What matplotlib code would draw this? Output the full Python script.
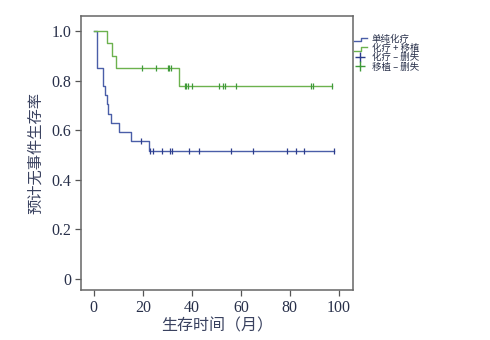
import numpy as np
import matplotlib
matplotlib.use("Agg")
import matplotlib.pyplot as plt
from matplotlib.legend_handler import HandlerBase
from matplotlib.lines import Line2D

plt.rcParams['font.family'] = ['Liberation Serif', 'Noto Sans CJK SC', 'DejaVu Sans']

# chemotherapy only: step times / survival
chemo_t = [0, 1.1, 3.8, 4.5, 5.2, 5.8, 6.9, 10.2, 15.1, 22.6]
chemo_s = [1.0, 0.852, 0.778, 0.741, 0.704, 0.667, 0.630, 0.593, 0.556, 0.516]
chemo_end = 98.2
chemo_cens = [19.2, 23.1, 24.2, 28, 31, 31.8, 39, 43, 56, 65, 79, 82.7, 85.7, 98.2]

# chemotherapy + transplant
trans_t = [0, 5.2, 7.6, 9.2, 34.8]
trans_s = [1.0, 0.95, 0.90, 0.85, 0.779]
trans_end = 97.4
trans_cens = [19.5, 25.4, 30.2, 30.7, 31.3, 37.2, 37.8, 38.3, 40, 51.2, 52.8,
              53.6, 58, 88.8, 89.3, 97.4]

blue = '#4a5ea8'
blue_dark = '#2c3c8c'
green = '#6cb24e'
green_dark = '#3f9a3a'
txt = '#28304a'
cjk = ['Noto Sans CJK SC', 'DejaVu Sans']


def km_line(ax, t, s, end, cens, color, mcolor):
    xs = list(t) + [end]
    ys = list(s) + [s[-1]]
    ax.step(xs, ys, where='post', color=color, lw=1.0)
    cy = [s[np.searchsorted(t, c, side='right') - 1] for c in cens]
    ax.plot(cens, cy, ls='none', marker='|', ms=5, mew=0.9, color=mcolor)


class StepHandler(HandlerBase):
    def __init__(self, color):
        super().__init__()
        self.color = color

    def create_artists(self, legend, orig_handle, xdescent, ydescent,
                       width, height, fontsize, trans):
        x0, x1 = -xdescent, -xdescent + width
        yb, yt = -ydescent + height * 0.1, -ydescent + height * 0.65
        xm = x0 + width * 0.55
        ln = Line2D([x0, xm, xm, x1], [yb, yb, yt, yt], color=self.color,
                    lw=1.0, transform=trans)
        return [ln]


fig = plt.figure(figsize=(4.9, 3.4), dpi=100)
ax = fig.add_axes([0.165, 0.147, 0.555, 0.806])

km_line(ax, chemo_t, chemo_s, chemo_end, chemo_cens, blue, blue_dark)
km_line(ax, trans_t, trans_s, trans_end, trans_cens, green, green_dark)

ax.set_xlim(-5.3, 105.7)
ax.set_ylim(-0.044, 1.06)
ax.set_xticks([0, 20, 40, 60, 80, 100])
ax.set_yticks([0, 0.2, 0.4, 0.6, 0.8, 1.0])
ax.set_yticklabels(['0', '0.2', '0.4', '0.6', '0.8', '1.0'])
ax.tick_params(direction='out', length=4, width=0.9, colors='#555555',
               labelsize=11.5, labelcolor=txt, pad=3)
for sp in ax.spines.values():
    sp.set_color('#666666')
    sp.set_linewidth(1.1)

ax.set_xlabel('生存时间（月）', fontsize=11.5, color='#3a4260',
              family=cjk, labelpad=1)
ax.set_ylabel('预计无事件生存率', fontsize=11, color='#3a4260',
              family=cjk, labelpad=5)

h1 = Line2D([], [], color=blue)
h2 = Line2D([], [], color=green)
h3 = Line2D([], [], ls='none', marker='+', ms=7, mew=1.0, color=blue_dark)
h4 = Line2D([], [], ls='none', marker='+', ms=7, mew=1.0, color=green_dark)
leg = ax.legend([h1, h2, h3, h4], ['单纯化疗', '化疗 + 移植', '化疗 – 删失', '移植 – 删失'],
                handler_map={h1: StepHandler(blue), h2: StepHandler(green)},
                loc='upper left', bbox_to_anchor=(0.99, 0.945), frameon=False,
                prop={'family': cjk, 'size': 6.8},
                handlelength=1.4, handletextpad=0.5, labelspacing=0.0,
                borderaxespad=0)
for t in leg.get_texts():
    t.set_color(txt)

fig.savefig('out.png', dpi=100)
